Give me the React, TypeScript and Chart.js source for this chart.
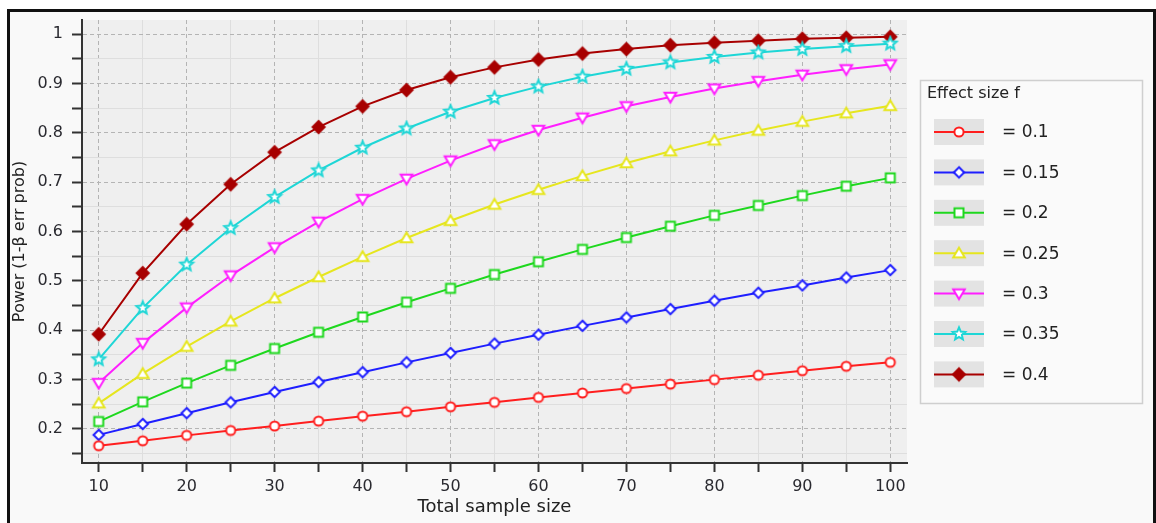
import React, { useEffect, useRef } from 'react';
import { Chart, registerables } from 'chart.js';

Chart.register(...registerables);

const sampleSizes = [10, 15, 20, 25, 30, 35, 40, 45, 50, 55, 60, 65, 70, 75, 80, 85, 90, 95, 100];

const effectLabels = ['= 0.1', '= 0.15', '= 0.2', '= 0.25', '= 0.3', '= 0.35', '= 0.4'];

const power010 = [0.166, 0.176, 0.187, 0.197, 0.206, 0.216, 0.226, 0.235, 0.245, 0.254, 0.264, 0.273, 0.282, 0.291, 0.300, 0.309, 0.318, 0.327, 0.335];
const power015 = [0.188, 0.210, 0.232, 0.254, 0.275, 0.295, 0.315, 0.335, 0.354, 0.373, 0.391, 0.409, 0.426, 0.443, 0.460, 0.476, 0.491, 0.507, 0.522];
const power020 = [0.215, 0.255, 0.293, 0.329, 0.363, 0.396, 0.427, 0.457, 0.485, 0.513, 0.539, 0.564, 0.588, 0.611, 0.633, 0.653, 0.673, 0.692, 0.709];
const power025 = [0.252, 0.312, 0.367, 0.418, 0.465, 0.508, 0.549, 0.587, 0.622, 0.655, 0.685, 0.713, 0.739, 0.763, 0.785, 0.805, 0.823, 0.840, 0.855];
const power030 = [0.293, 0.374, 0.446, 0.511, 0.568, 0.620, 0.666, 0.707, 0.744, 0.777, 0.806, 0.831, 0.854, 0.873, 0.890, 0.905, 0.918, 0.929, 0.939];
const power035 = [0.341, 0.445, 0.533, 0.607, 0.670, 0.724, 0.770, 0.809, 0.843, 0.871, 0.894, 0.914, 0.930, 0.943, 0.954, 0.963, 0.970, 0.976, 0.981];
const power040 = [0.392, 0.516, 0.615, 0.696, 0.761, 0.812, 0.854, 0.887, 0.913, 0.933, 0.949, 0.961, 0.970, 0.978, 0.983, 0.987, 0.991, 0.993, 0.995];

const seriesValues = [power010, power015, power020, power025, power030, power035, power040];
const seriesColors = ['#ff1e1e', '#1e1eff', '#1ed81e', '#e6e61e', '#ff1eff', '#1ed6d6', '#a80000'];
const markerTypes = ['circle', 'diamond', 'square', 'triangle', 'triangleDown', 'star', 'diamondFilled'];

const xTickValues = [10, 15, 20, 25, 30, 35, 40, 45, 50, 55, 60, 65, 70, 75, 80, 85, 90, 95, 100];
const yTickValues = [0.15, 0.2, 0.25, 0.3, 0.35, 0.4, 0.45, 0.5, 0.55, 0.6, 0.65, 0.7, 0.75, 0.8, 0.85, 0.9, 0.95, 1.0];

const xTitle = 'Total sample size';
const yTitle = 'Power (1-β err prob)';
const legendTitle = 'Effect size f';

const FONT = '"DejaVu Sans", Verdana, sans-serif';

function makeMarker(type: string, color: string): HTMLCanvasElement {
  const c = document.createElement('canvas');
  c.width = 18;
  c.height = 18;
  const g = c.getContext('2d')!;
  const m = 9;
  g.lineWidth = 2;
  g.strokeStyle = color;
  g.fillStyle = '#ffffff';
  g.lineJoin = 'miter';
  g.beginPath();
  if (type === 'circle') {
    g.arc(m, m, 4.6, 0, Math.PI * 2);
  } else if (type === 'diamond') {
    g.moveTo(m, m - 5.2);
    g.lineTo(m + 5.2, m);
    g.lineTo(m, m + 5.2);
    g.lineTo(m - 5.2, m);
    g.closePath();
  } else if (type === 'square') {
    g.rect(m - 4.5, m - 4.5, 9, 9);
  } else if (type === 'triangle') {
    g.moveTo(m, m - 5.5);
    g.lineTo(m + 5.8, m + 4.2);
    g.lineTo(m - 5.8, m + 4.2);
    g.closePath();
  } else if (type === 'triangleDown') {
    g.moveTo(m, m + 5.5);
    g.lineTo(m + 5.8, m - 4.2);
    g.lineTo(m - 5.8, m - 4.2);
    g.closePath();
  } else if (type === 'star') {
    const ro = 6.6, ri = 3.0;
    for (let i = 0; i < 10; i++) {
      const r = i % 2 === 0 ? ro : ri;
      const a = -Math.PI / 2 + (i * Math.PI) / 5;
      const px = m + r * Math.cos(a);
      const py = m + r * Math.sin(a);
      if (i === 0) g.moveTo(px, py);
      else g.lineTo(px, py);
    }
    g.closePath();
  } else {
    g.fillStyle = color;
    g.moveTo(m, m - 6);
    g.lineTo(m + 6, m);
    g.lineTo(m, m + 6);
    g.lineTo(m - 6, m);
    g.closePath();
  }
  g.fill();
  g.stroke();
  return c;
}

const isMajorY = (v: number) => Math.abs(v * 10 - Math.round(v * 10)) < 1e-6;
const isMajorX = (v: number) => Math.abs(v % 10) < 1e-6;

export default function App() {
  const ref = useRef<HTMLCanvasElement | null>(null);

  useEffect(() => {
    if (!ref.current) return;
    const markers = markerTypes.map((t, i) => makeMarker(t, seriesColors[i]));

    const plotBg = {
      id: 'plotBg',
      beforeDraw(chart: any) {
        const { ctx, chartArea } = chart;
        ctx.save();
        ctx.fillStyle = '#efefef';
        ctx.fillRect(chartArea.left, chartArea.top, chartArea.right - chartArea.left, chartArea.bottom - chartArea.top);
        ctx.restore();
      },
    };

    const customLegend = {
      id: 'customLegend',
      afterDraw(chart: any) {
        const ctx = chart.ctx as CanvasRenderingContext2D;
        ctx.save();
        ctx.fillStyle = '#fafafa';
        ctx.fillRect(920.5, 80.5, 222, 323);
        ctx.strokeStyle = '#cfcfcf';
        ctx.lineWidth = 1.5;
        ctx.strokeRect(920.5, 80.5, 222, 323);
        ctx.fillStyle = '#222';
        ctx.font = `16px ${FONT}`;
        ctx.textBaseline = 'middle';
        ctx.textAlign = 'left';
        ctx.fillText(legendTitle, 927, 94);
        effectLabels.forEach((lab, i) => {
          const cy = 132 + i * 40.4;
          ctx.fillStyle = '#e3e3e3';
          ctx.fillRect(934, cy - 13, 50, 26);
          ctx.strokeStyle = seriesColors[i];
          ctx.lineWidth = 2;
          ctx.beginPath();
          ctx.moveTo(934, cy);
          ctx.lineTo(984, cy);
          ctx.stroke();
          const mk = markers[i];
          ctx.drawImage(mk, 959 - mk.width / 2, cy - mk.height / 2);
          ctx.fillStyle = '#222';
          ctx.font = `17px ${FONT}`;
          ctx.fillText(lab, 1002, cy + 1);
        });
        ctx.restore();
      },
    };

    const chart = new Chart(ref.current, {
      type: 'line',
      data: {
        datasets: seriesValues.map((vals, i) => ({
          label: effectLabels[i],
          data: vals.map((v, j) => ({ x: sampleSizes[j], y: v })),
          borderColor: seriesColors[i],
          backgroundColor: seriesColors[i],
          borderWidth: 2,
          pointStyle: markers[i] as any,
          pointRadius: 6,
          tension: 0,
          fill: false,
        })),
      },
      options: {
        animation: false,
        responsive: false,
        events: [],
        layout: { padding: { left: 0, top: 20, right: 249, bottom: 0 } },
        plugins: {
          legend: { display: false },
          tooltip: { enabled: false },
        },
        scales: {
          x: {
            type: 'linear',
            min: 8.1,
            max: 101.9,
            afterFit(scale: any) {
              scale.height = 60;
            },
            afterBuildTicks(scale: any) {
              scale.ticks = xTickValues.map((v) => ({ value: v }));
            },
            ticks: {
              autoSkip: false,
              maxRotation: 0,
              padding: 5,
              color: '#2a2a30',
              font: { family: FONT, size: 16 },
              callback: (v: any) => (isMajorX(Number(v)) ? String(v) : ''),
            },
            grid: {
              color: (c: any) => (c.tick && isMajorX(c.tick.value) ? '#b4b4b4' : '#dedede'),
              lineWidth: 1,
              tickColor: '#333',
              tickWidth: 2,
              tickLength: 9,
            },
            border: {
              color: '#333',
              width: 2,
              dash: (c: any) => (c.tick && isMajorX(c.tick.value) ? [4, 3] : []),
            } as any,
            title: {
              display: true,
              text: xTitle,
              color: '#222',
              font: { family: FONT, size: 18 },
              padding: { top: 0, bottom: 5 },
            },
          },
          y: {
            type: 'linear',
            min: 0.131,
            max: 1.029,
            afterFit(scale: any) {
              scale.width = 82;
            },
            afterBuildTicks(scale: any) {
              scale.ticks = yTickValues.map((v) => ({ value: v }));
            },
            ticks: {
              autoSkip: false,
              padding: 9,
              color: '#2a2a30',
              font: { family: FONT, size: 16 },
              callback: (v: any) => {
                const n = Number(v);
                return isMajorY(n) ? String(Math.round(n * 10) / 10) : '';
              },
            },
            grid: {
              color: (c: any) => (c.tick && isMajorY(c.tick.value) ? '#b4b4b4' : '#dedede'),
              lineWidth: 1,
              tickColor: '#333',
              tickWidth: 2,
              tickLength: 10,
            },
            border: {
              color: '#333',
              width: 2,
              dash: (c: any) => (c.tick && isMajorY(c.tick.value) ? [4, 3] : []),
            } as any,
            title: {
              display: true,
              text: yTitle,
              color: '#222',
              font: { family: FONT, size: 16 },
              padding: { top: 10, bottom: 0 },
            },
          },
        },
      },
      plugins: [plotBg, customLegend],
    });

    return () => chart.destroy();
  }, []);

  return (
    <div>
      <div
        style={{
          position: 'fixed',
          left: 7,
          top: 9,
          width: 1149,
          height: 540,
          boxSizing: 'border-box',
          border: '3px solid #111',
          background: '#f9f9f9',
        }}
      />
      <canvas
        ref={ref}
        width={1156}
        height={523}
        style={{ position: 'fixed', left: 0, top: 0, width: 1156, height: 523 }}
      />
    </div>
  );
}
